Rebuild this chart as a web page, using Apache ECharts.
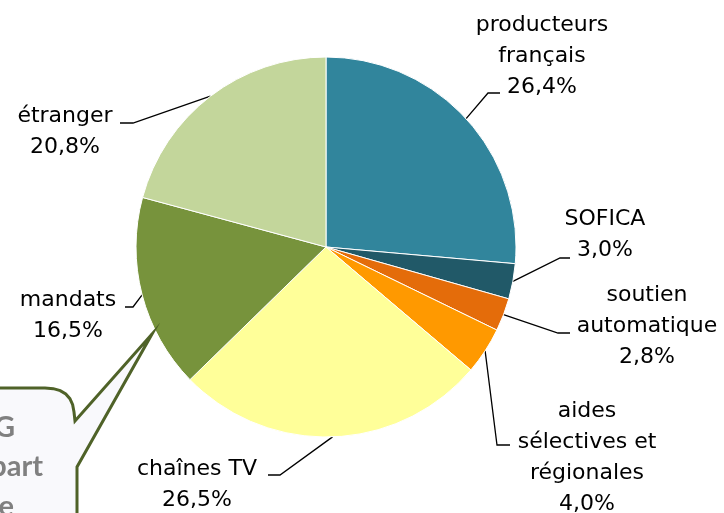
<!DOCTYPE html>
<html>
<head>
<meta charset="utf-8">
<script src="https://cdn.jsdelivr.net/npm/echarts@6/dist/echarts.min.js"></script>
<style>
  html, body { margin: 0; padding: 0; background: #fff; }
  #chart { width: 724px; height: 513px; }
</style>
</head>
<body>
<div id="chart"></div>
<script>
// parts du financement (en %)
const categories = [
  "producteurs\nfrançais",
  "SOFICA",
  "soutien\nautomatique",
  "aides\nsélectives et\nrégionales",
  "chaînes TV",
  "mandats",
  "étranger"
];
const shares = [26.4, 3.0, 2.8, 4.0, 26.5, 16.5, 20.8];
const colors = ["#31859C", "#215968", "#E46C0A", "#FF9900", "#FFFF99", "#77933C", "#C3D69B"];

// where each label sits and where its leader line ends
const labelCenters = [[542, 56], [605, 235], [647, 326], [587, 458], [197, 485], [68, 316], [65, 132]];
const lineEnds = [[500, 93], [570, 258], [570, 333], [510, 445], [268, 475], [125, 307], [120, 123]];
const hooks = [-12, -10, -12, -13, 12, 8, 13];

// visible bits of the callout text, cut off by the left edge
const calloutLines = ["G", "part", "e"];

const chart = echarts.init(document.getElementById("chart"));

function pct(v) {
  return v.toFixed(1).replace(".", ",") + "%";
}

// callout outline: rounded top-right corner then the pointer
function calloutPoints() {
  const pts = [[-10, 388], [45, 388]];
  const p0 = [45, 388], c = [72, 388], p1 = [74, 412];
  for (let k = 1; k <= 6; k++) {
    const t = k / 6;
    pts.push([
      (1 - t) * (1 - t) * p0[0] + 2 * t * (1 - t) * c[0] + t * t * p1[0],
      (1 - t) * (1 - t) * p0[1] + 2 * t * (1 - t) * c[1] + t * t * p1[1]
    ]);
  }
  pts.push([75, 421], [152, 334], [77, 467], [77, 530], [-10, 530]);
  return pts;
}

const calloutRight = [15, 43, 14];
const calloutY = [428, 467, 507];

chart.setOption({
  animation: false,
  series: [{
    type: "pie",
    center: [326, 247],
    radius: [0, 190],
    startAngle: 90,
    clockwise: true,
    avoidLabelOverlap: false,
    itemStyle: { borderColor: "#fff", borderWidth: 1 },
    label: {
      show: true,
      position: "outside",
      color: "#000",
      fontFamily: "DejaVu Sans",
      fontSize: 22,
      lineHeight: 31,
      align: "center",
      formatter: p => p.name + "\n" + pct(p.value)
    },
    labelLine: {
      show: true,
      lineStyle: { color: "#000", width: 1.3 }
    },
    labelLayout: p => {
      const i = p.dataIndex;
      const start = p.labelLinePoints ? p.labelLinePoints[0] : lineEnds[i];
      const end = lineEnds[i];
      return {
        x: labelCenters[i][0],
        y: labelCenters[i][1],
        align: "center",
        verticalAlign: "middle",
        labelLinePoints: [start, [end[0] + hooks[i], end[1]], end]
      };
    },
    data: categories.map((c, i) => ({
      name: c,
      value: shares[i],
      itemStyle: { color: colors[i] }
    }))
  }],
  graphic: [
    {
      type: "polygon",
      z: 10,
      shape: { points: calloutPoints() },
      style: { fill: "#F9F9FC", stroke: "#4F6228", lineWidth: 3, lineJoin: "miter" }
    }
  ].concat(calloutLines.map((t, i) => ({
    type: "text",
    z: 11,
    style: {
      text: t,
      x: calloutRight[i],
      y: calloutY[i],
      align: "right",
      verticalAlign: "middle",
      fontFamily: "Lato",
      fontWeight: "bold",
      fontSize: 29,
      fill: "#808080"
    }
  })))
});
</script>
</body>
</html>
